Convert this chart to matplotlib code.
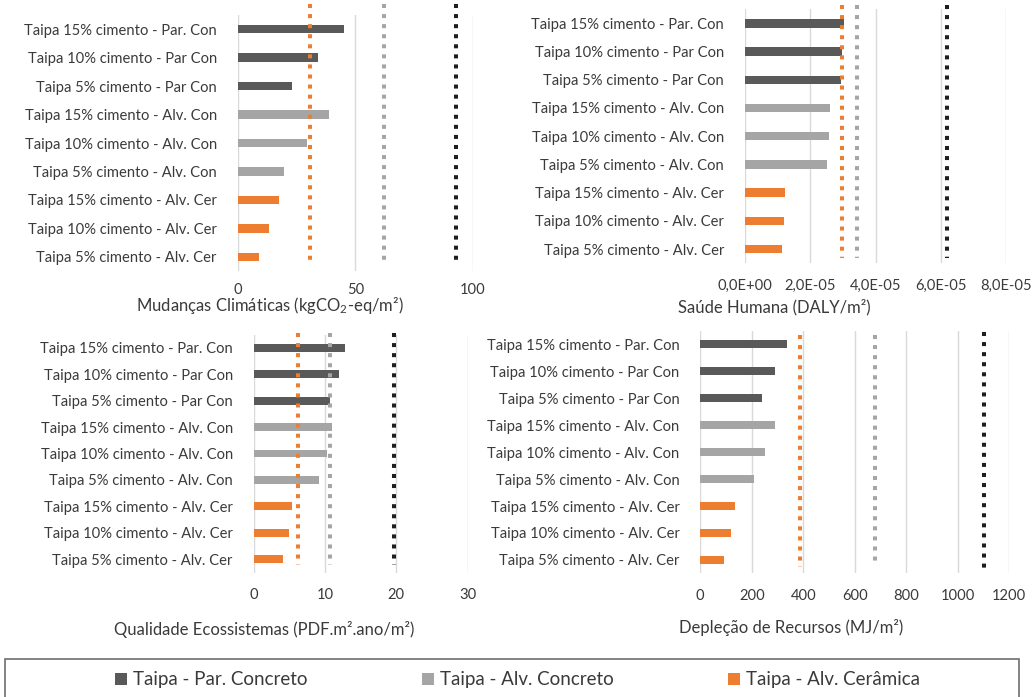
import matplotlib
matplotlib.use('Agg')
import matplotlib.pyplot as plt
from matplotlib.patches import Patch, Rectangle
from matplotlib.ticker import FuncFormatter

plt.rcParams['font.family'] = ['Lato', 'DejaVu Sans']
plt.rcParams['mathtext.fontset'] = 'custom'
plt.rcParams['mathtext.rm'] = 'Lato'
plt.rcParams['mathtext.it'] = 'Lato:italic'

# ---------------- data ----------------
categories = [
    "Taipa 15% cimento - Par. Con",
    "Taipa 10% cimento - Par Con",
    "Taipa 5% cimento - Par Con",
    "Taipa 15% cimento - Alv. Con",
    "Taipa 10% cimento - Alv. Con",
    "Taipa 5% cimento - Alv. Con",
    "Taipa 15% cimento - Alv. Cer",
    "Taipa 10% cimento - Alv. Cer",
    "Taipa 5% cimento - Alv. Cer",
]
series_names = ["Taipa - Par. Concreto", "Taipa - Alv. Concreto", "Taipa - Alv. Cerâmica"]

climate = [45.0, 34.0, 23.1, 38.7, 29.3, 19.7, 17.6, 13.4, 8.9]
climate_ref = [92.8, 62.3, 30.7]          # Par. Concreto, Alv. Concreto, Alv. Cerâmica
health = [3.03e-5, 2.97e-5, 2.94e-5, 2.60e-5, 2.57e-5, 2.52e-5, 1.22e-5, 1.19e-5, 1.14e-5]
health_ref = [6.19e-5, 3.44e-5, 2.97e-5]
ecosystems = [12.85, 12.0, 10.66, 11.0, 10.3, 9.2, 5.33, 4.95, 4.15]
ecosystems_ref = [19.6, 10.75, 6.21]
resources = [338, 291, 239.5, 291, 251, 207, 136, 118, 93]
resources_ref = [1102, 677, 386]

titles = [
    "Mudanças Climáticas (kgCO$_2$-eq/m²)",
    "Saúde Humana (DALY/m²)",
    "Qualidade Ecossistemas (PDF.m².ano/m²)",
    "Depleção de Recursos (MJ/m²)",
]
climate_ticks = [0, 50, 100]
health_ticks = [0, 2e-5, 4e-5, 6e-5, 8e-5]
ecosystems_ticks = [0, 10, 20, 30]
resources_ticks = [0, 200, 400, 600, 800, 1000, 1200]

# ---------------- style ----------------
series_colors = ["#595959", "#A5A5A5", "#ED7D31"]
ref_colors = ["#1E1E1E", "#A5A5A5", "#ED7D31"]
bar_colors = [series_colors[i // 3] for i in range(len(categories))]
text_color = "#3A3A3A"
grid_color = "#D9D9D9"

W, H = 1032, 697
fig = plt.figure(figsize=(W / 100, H / 100), dpi=100)
fig.patch.set_facecolor("white")


def ax_rect(left, right, top, bottom):
    return [left / W, 1 - bottom / H, (right - left) / W, (bottom - top) / H]


panels = [
    dict(values=climate, refs=climate_ref, ticks=climate_ticks, title=titles[0],
         rect=ax_rect(237.7, 473, 15, 271), title_xy=(269.7, 306), xpad=9,
         ref_span=[(-0.9, 8.3), (-0.9, 8.3), (-0.9, 8.3)], fmt=None),
    dict(values=health, refs=health_ref, ticks=health_ticks, title=titles[1],
         rect=ax_rect(745, 1006, 9.2, 263.2), title_xy=(774.5, 307), xpad=11,
         ref_span=[(-0.65, 8.3), (-0.65, 8.3), (-0.65, 8.3)], fmt="sci"),
    dict(values=ecosystems, refs=ecosystems_ref, ticks=ecosystems_ticks, title=titles[2],
         rect=ax_rect(253.7, 467.7, 334.5, 572.5), title_xy=(263.8, 630), xpad=11,
         ref_span=[(-0.56, 8.2), (-0.56, 8.2), (-0.56, 8.2)], fmt=None),
    dict(values=resources, refs=resources_ref, ticks=resources_ticks, title=titles[3],
         rect=ax_rect(700.3, 1009.3, 330.8, 573.4), title_xy=(791.5, 628), xpad=11,
         ref_span=[(-0.47, 8.45), (-0.35, 8.2), (-0.35, 8.27)], fmt=None),
]

ypos = list(range(len(categories)))
for p in panels:
    ax = fig.add_axes(p["rect"])
    ax.barh(ypos, p["values"], height=0.3, color=bar_colors, zorder=2)
    for x, c, (y0, y1) in zip(p["refs"], ref_colors, p["ref_span"]):
        ax.plot([x, x], [y0, y1], color=c, lw=2.9, ls=(0, (1, 1.5)),
                dash_capstyle="butt", clip_on=False, zorder=3)
    ax.set_ylim(len(categories) - 0.5, -0.5)
    ax.set_xlim(p["ticks"][0], p["ticks"][-1])
    ax.set_xticks(p["ticks"])
    if p["fmt"] == "sci":
        ax.xaxis.set_major_formatter(FuncFormatter(lambda v, _: f"{v:.1E}".replace(".", ",")))
    ax.set_yticks(ypos)
    ax.set_yticklabels(categories)
    ax.tick_params(axis="y", length=0, pad=15, labelsize=10.6, labelcolor=text_color)
    ax.tick_params(axis="x", length=0, pad=p["xpad"], labelsize=10.6, labelcolor=text_color)
    ax.grid(axis="x", color=grid_color, lw=1, zorder=0)
    ax.set_axisbelow(True)
    for s in ["top", "right", "bottom", "left"]:
        ax.spines[s].set_visible(False)
    ax.set_facecolor("none")
    tx, ty = p["title_xy"]
    fig.text(tx / W, 1 - ty / H, p["title"], ha="center", va="center",
             fontsize=12, color=text_color)

# legend frame and legend
fig.add_artist(Rectangle((5 / W, -0.02), (1019.3 - 5) / W, (H - 659.3) / H + 0.02,
                         transform=fig.transFigure, fill=False, edgecolor="#6E6E6E",
                         lw=1.2, clip_on=False))
handles = [Patch(facecolor=c, edgecolor="none") for c in series_colors]
fig.legend(handles, series_names, loc="center left", ncol=3,
           bbox_to_anchor=(115 / W, 1 - 680 / H), frameon=False, fontsize=13.5,
           handlelength=0.64, handleheight=0.64, handletextpad=0.32,
           columnspacing=6.1, borderpad=0, borderaxespad=0, labelcolor=text_color)

fig.savefig("out.png", dpi=100)
